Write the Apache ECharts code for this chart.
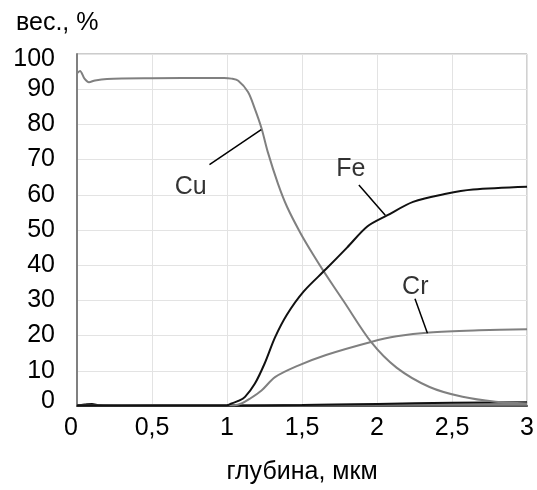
<!DOCTYPE html>
<html><head><meta charset="utf-8">
<script src="https://cdn.jsdelivr.net/npm/echarts@6/dist/echarts.min.js"></script>
<style>html,body{margin:0;padding:0;background:#fff}#c{width:537px;height:490px}</style>
</head><body><div id="c"></div>
<script>
const xTicks = ['0','0,5','1','1,5','2','2,5','3'];
const yTicks = [0,10,20,30,40,50,60,70,80,90,100];

const cuX = [0,0.02,0.05,0.08,0.12,0.2,0.5,0.9,0.98,1.03,1.075,1.14,1.185,1.23,1.27,1.34,1.40,1.49,1.58,1.65,1.78,1.96,2.13,2.35,2.57,2.79,3.0];
const cuY = [94.5,95.2,93.0,92.0,92.5,92.9,93.1,93.2,93.2,93.0,92.4,89.2,84.5,78.9,72.4,63.1,56.6,49.1,42.6,37.9,29.6,18.2,10.9,5.4,2.6,1.2,0.7];

const feX = [0,1.0,1.03,1.08,1.12,1.185,1.25,1.32,1.40,1.51,1.66,1.80,1.935,2.07,2.24,2.46,2.64,3.0];
const feY = [0.1,0.2,0.7,1.5,2.6,6.3,12.0,19.5,26.0,32.5,38.9,45.0,51.0,54.2,58.0,60.3,61.5,62.3];

const crX = [0,1.05,1.096,1.15,1.23,1.32,1.47,1.66,1.96,2.13,2.35,2.68,3.0];
const crY = [0.1,0.2,0.7,2.0,4.4,8.2,11.4,14.5,18.2,19.8,20.9,21.5,21.8];

const lowX = [0,0.05,0.1,0.15,0.3,1.0,1.5,2.0,2.5,3.0];
const lowBlackY = [0.2,0.4,0.6,0.2,0.1,0.1,0.3,0.6,0.9,1.1];
const lowGrayY = [0.3,0.3,0.3,0.3,0.3,0.3,0.3,0.4,0.4,0.4];

// annotation labels [x, y, text] and leader lines [[x1,y1],[x2,y2]]
const labels = [[0.758,62.1,'Cu'],[1.826,67.4,'Fe'],[2.255,33.9,'Cr']];
const leaders = [[[0.883,68.6],[1.228,78.5]],[[1.879,62.8],[2.055,54.2]],[[2.253,30.5],[2.336,20.7]]];

const zip = (xs, ys) => xs.map((x, i) => [x, ys[i]]);
const FONT = 'Liberation Sans, Arial, sans-serif';
const lab = { fontFamily: FONT, fontSize: 25, color: '#000' };

const chart = echarts.init(document.getElementById('c'));
chart.setOption({
  animation: false,
  backgroundColor: '#fff',
  title: { text: 'вес., %', left: 11, top: 6,
    textStyle: { fontFamily: FONT, fontSize: 25, fontWeight: 'normal', color: '#000' } },
  grid: { left: 77, right: 5, top: 54, bottom: 77.5, show: true, borderColor: '#999', borderWidth: 1 },
  xAxis: {
    type: 'value', min: 0, max: 3, interval: 0.5,
    name: 'глубина, мкм', nameLocation: 'middle', nameGap: 54,
    nameTextStyle: { fontFamily: FONT, fontSize: 25, color: '#000' },
    axisLine: { show: true, lineStyle: { color: '#555', width: 2 } },
    axisTick: { show: false },
    splitLine: { show: true, lineStyle: { color: '#e3e3e3', width: 1 } },
    axisLabel: Object.assign({}, lab, { margin: 10,
      formatter: v => { const t = xTicks[Math.round(v * 2)]; return v === 0 ? '{z|' + t + '}' : t; },
      rich: { z: Object.assign({}, lab, { padding: [0, 12, 0, 0] }) } })
  },
  yAxis: {
    type: 'value', min: 0, max: 100, interval: 10,
    axisLine: { show: true, lineStyle: { color: '#808080', width: 2 } },
    axisTick: { show: false },
    splitLine: { show: true, lineStyle: { color: '#e3e3e3', width: 1 } },
    axisLabel: Object.assign({}, lab, { margin: 22,
      formatter: v => { const t = String(yTicks[Math.round(v / 10)]);
        return v === 100 ? '{t|' + t + '}' : (v === 0 ? '{b|' + t + '}' : t); },
      rich: { t: Object.assign({}, lab, { padding: [10, 0, 0, 0] }),
              b: Object.assign({}, lab, { padding: [0, 0, 10, 0] }) } })
  },
  series: [
    { type: 'line', data: zip(lowX, lowGrayY), showSymbol: false, smooth: 0.3,
      lineStyle: { color: '#808080', width: 2 } },
    { type: 'line', data: zip(lowX, lowBlackY), showSymbol: false, smooth: 0.3,
      lineStyle: { color: '#111', width: 2 } },
    { type: 'line', name: 'Cu', data: zip(cuX, cuY), showSymbol: false, smooth: 0.3,
      lineStyle: { color: '#808080', width: 2 } },
    { type: 'line', name: 'Cr', data: zip(crX, crY), showSymbol: false, smooth: 0.3,
      lineStyle: { color: '#808080', width: 2 } },
    { type: 'line', name: 'Fe', data: zip(feX, feY), showSymbol: false, smooth: 0.3,
      lineStyle: { color: '#111', width: 2 } },
    { type: 'lines', coordinateSystem: 'cartesian2d', polyline: false,
      data: leaders.map(l => ({ coords: l })),
      lineStyle: { color: '#000', width: 1.5, opacity: 1 }, z: 5 },
    { type: 'scatter', data: labels.map(l => [l[0], l[1], l[2]]), symbolSize: 0,
      label: { show: true, position: 'inside', formatter: p => p.data[2],
        fontFamily: FONT, fontSize: 25, color: '#000' }, z: 6 }
  ]
});
</script></body></html>
